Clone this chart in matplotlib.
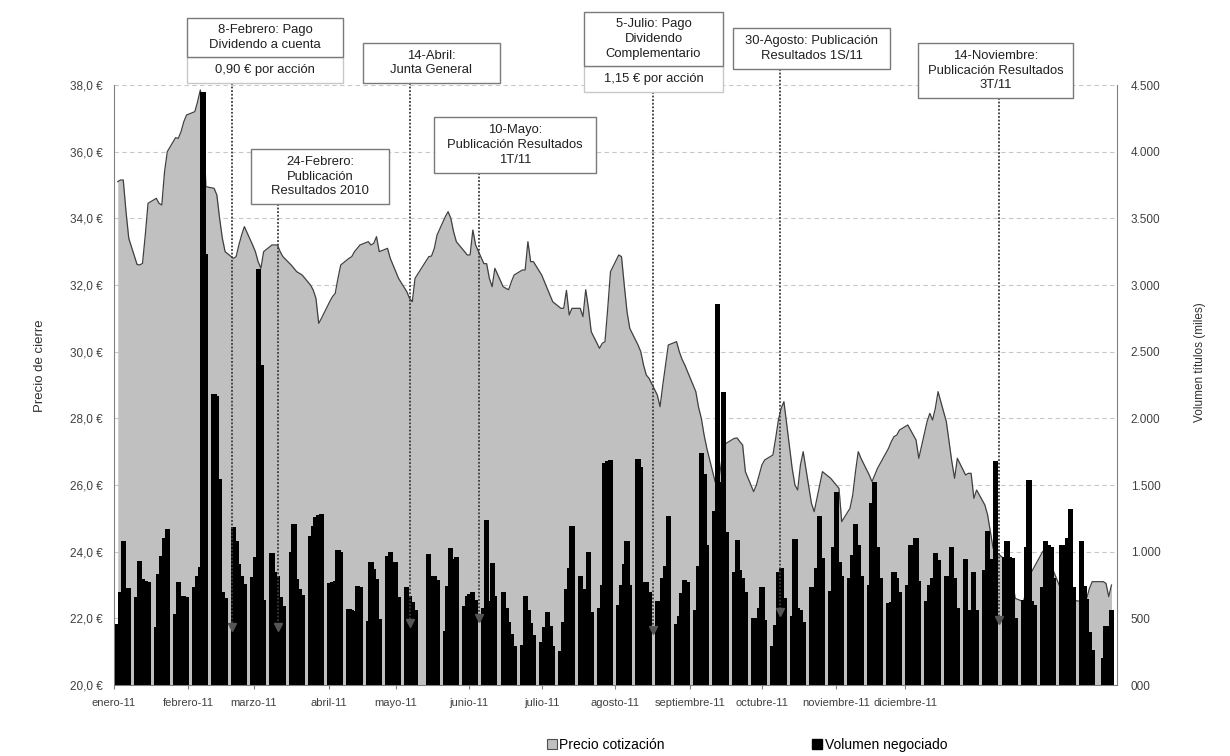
import numpy as np
import pandas as pd
import matplotlib
matplotlib.use("Agg")
import matplotlib.pyplot as plt
import matplotlib.dates as mdates
from matplotlib.patches import Rectangle, Patch
from matplotlib.lines import Line2D

plt.rcParams['font.family'] = ['Liberation Sans', 'DejaVu Sans']

# trading days 2011 (Spanish market holidays removed)
holidays = ["2011-04-22", "2011-04-25", "2011-12-26"]
days = pd.bdate_range("2011-01-03", "2011-12-30")
days = days[~days.isin(pd.to_datetime(holidays))]

# closing price, one line per week
price = [
    35.1, 35.15, 35.15, 34.2, 33.4,
    32.62, 32.6, 32.65, 33.5, 34.45,
    34.6, 34.45, 34.4, 35.4, 36.0,
    36.42, 36.4, 36.6, 36.9, 37.1,
    37.2, 37.5, 37.85, 37.4, 34.95,
    34.9, 34.7, 34.0, 33.4, 33.0,
    32.8, 32.85, 33.2, 33.5, 33.75,
    33.2, 33.0, 32.7, 32.5, 33.0,
    33.2, 33.2, 33.2, 33.0, 32.85,
    32.6, 32.5, 32.4, 32.35, 32.3,
    32.0, 31.85, 31.6, 30.85, 31.0,
    31.5, 31.65, 31.75, 32.2, 32.6,
    32.8, 32.85, 33.0, 33.1, 33.2,
    33.3, 33.2, 33.25, 33.45, 33.0,
    33.1, 32.8, 32.6, 32.4, 32.2,
    31.8, 31.6, 31.5, 32.2,
    32.85, 32.87, 33.1, 33.5,
    34.05, 34.2, 34.0, 33.6, 33.3,
    33.0, 32.9, 32.9, 33.65, 33.2,
    32.64, 32.64, 32.2, 31.95, 32.5,
    31.95, 31.9, 31.86, 32.1, 32.3,
    32.45, 32.45, 33.3, 32.7, 32.7,
    32.3, 32.1, 31.9, 31.7, 31.5,
    31.3, 31.3, 31.84, 31.1, 31.3,
    31.3, 31.05, 31.86, 31.3, 30.6,
    30.1, 30.25, 30.3, 31.3, 32.4,
    32.9, 32.85, 32.0, 31.2, 30.7,
    30.2, 30.0, 29.6, 29.3, 29.2,
    28.7, 28.35, 29.0, 29.6, 30.2,
    30.3, 30.0, 29.77, 29.6, 29.4,
    28.8, 28.33, 28.0, 27.5, 27.1,
    26.1, 26.0, 26.5, 27.1, 27.25,
    27.4, 27.41, 27.3, 27.2, 26.4,
    25.8, 26.0, 26.3, 26.6, 26.75,
    26.9, 27.4, 27.95, 28.3, 28.5,
    26.5, 26.0, 25.85, 26.6, 27.0,
    25.45, 25.2, 25.6, 26.0, 26.4,
    26.2, 26.1, 26.0, 25.9, 24.9,
    25.3, 25.7, 26.4, 27.0, 26.8,
    26.3, 26.1, 26.3, 26.5, 26.65,
    27.1, 27.3, 27.45, 27.5, 27.65,
    27.8, 27.65, 27.5, 27.35, 26.8,
    27.9, 28.15, 27.95, 28.3, 28.8,
    27.9, 27.3, 26.7, 26.2, 26.8,
    26.3, 26.35, 26.35, 25.6, 25.85,
    25.4, 25.1, 24.6, 24.1, 24.0,
    23.78, 23.76, 23.74, 23.2, 22.6,
    22.5, 22.8, 23.1, 23.4, 23.55,
    24.0, 24.08, 23.9, 23.6, 23.4,
    22.8, 22.7, 22.65, 22.6, 22.55,
    22.5, 22.55, 22.6, 22.9, 23.1,
    23.1, 23.05, 22.65, 23.0,
]

# traded volume (thousands of shares), one line per week
volume = [
    460, 695, 1078, 460, 725,
    661, 932, 796, 781, 770,
    436, 834, 969, 1104, 1172,
    533, 774, 518, 669, 661,
    736, 819, 887, 4450, 3230,
    2185, 2170, 1545, 700, 650,
    1187, 1082, 909, 819, 760,
    810, 960, 3120, 2400, 640,
    990, 850, 820, 660, 594,
    1000, 1209, 796, 721, 676,
    1120, 1195, 1262, 1277, 1285,
    766, 772, 781, 1014, 1000,
    571, 560, 556, 744, 736,
    481, 924, 870, 796, 496,
    969, 999, 699, 924, 660,
    736, 669, 624, 560,
    985, 819, 819, 790,
    404, 745, 1025, 948, 960,
    590, 665, 680, 700, 640,
    575, 1235, 632, 914, 670,
    699, 575, 474, 383, 290,
    300, 665, 565, 465, 374,
    320, 437, 550, 444, 290,
    256, 473, 721, 879, 1195,
    815, 720, 585, 995, 550,
    575, 747, 1666, 1680, 1690,
    603, 747, 905, 1077, 747,
    1695, 1638, 776, 776, 700,
    632, 575, 804, 890, 1264,
    460, 517, 690, 790, 776,
    560, 890, 1738, 1580, 1050,
    1307, 2859, 1523, 2198, 1149,
    848, 1091, 862, 804, 700,
    503, 503, 575, 733, 489,
    290, 450, 850, 880, 650,
    517, 1092, 575, 560, 474,
    732, 531, 876, 1270, 950,
    704, 1034, 1451, 919, 819,
    804, 977, 1207, 1048, 820,
    747, 1365, 1523, 1034, 800,
    618, 620, 847, 804, 700,
    747, 1048, 804, 1106, 780,
    632, 747, 804, 991, 934,
    819, 820, 1034, 804, 575,
    948, 560, 546, 847, 560,
    862, 1155, 948, 919, 1681,
    962, 1077, 962, 950, 503,
    640, 1034, 1537, 632, 600,
    732, 1077, 1050, 1034, 800,
    1048, 1050, 1106, 1322, 732,
    1080, 745, 645, 400, 260,
    200, 440, 410, 560,
]

month_labels = ["enero-11", "febrero-11", "marzo-11", "abril-11", "mayo-11",
                "junio-11", "julio-11", "agosto-11", "septiembre-11",
                "octubre-11", "noviembre-11", "diciembre-11"]

price_ticks = np.arange(20, 38.1, 2)
volume_ticks = np.arange(0, 4501, 500)

events = [
    "8-Febrero: Pago\nDividendo a cuenta",
    "24-Febrero:\nPublicación\nResultados 2010",
    "14-Abril:\nJunta General",
    "10-Mayo:\nPublicación Resultados\n1T/11",
    "5-Julio: Pago\nDividendo\nComplementario",
    "30-Agosto: Publicación\nResultados 1S/11",
    "14-Noviembre:\nPublicación Resultados\n3T/11",
]
event_notes = ["0,90 € por acción", None, None, None, "1,15 € por acción", None, None]

# ---- layout (pixels of the 1230x756 canvas) ----
W, H = 1230, 756
def fx(px):
    return px / W
def fy(py):
    return 1 - py / H

AX_L, AX_R, AX_T, AX_B = 114, 1117, 85, 685
tick_px = [113, 187, 253, 328, 395, 468, 541, 614, 690, 762, 836, 905]
# box: x0, x1, y0, y1 (upper part), y2 (bottom of note part)
box_px = [
    (187, 343, 18, 57, 83),
    (251, 389, 149, 204, None),
    (363, 500, 43, 83, None),
    (434, 596, 117, 173, None),
    (584, 723, 12, 66, 92),
    (733, 890, 28, 69, None),
    (918, 1073, 43, 98, None),
]
line_px = [232, 278, 410, 479, 653, 780, 999]
arrow_py = [627, 627, 623, 618, 630, 612, 620]

fig = plt.figure(figsize=(12.3, 7.56), dpi=100)
ax = fig.add_axes([fx(AX_L), fy(AX_B), (AX_R - AX_L) / W, (AX_B - AX_T) / H])
ax2 = ax.twinx()

x = mdates.date2num(days)
ax.fill_between(x, 20, price, color='#c0c0c0', lw=0, zorder=1)
ax.plot(x, price, color='#404040', lw=0.9, zorder=2)
ax2.bar(x, volume, width=1.9, color='black', lw=0, zorder=3)

x0 = mdates.date2num(pd.Timestamp("2011-01-02"))
x1 = mdates.date2num(pd.Timestamp("2012-01-01"))
ax.set_xlim(x0, x1)
ax.set_ylim(20, 38)
ax2.set_ylim(0, 4500)

ax.set_yticks(price_ticks)
ax.set_yticklabels([f"{v:.1f} €".replace('.', ',') for v in price_ticks])
ax2.set_yticks(volume_ticks)
ax2.set_yticklabels(["000" if v == 0 else f"{v:,}".replace(',', '.') for v in volume_ticks])

ticks = [x0 + (p - AX_L) / (AX_R - AX_L) * (x1 - x0) for p in tick_px]
ax.set_xticks(ticks)
ax.set_xticklabels(month_labels)

ax.grid(axis='y', color='#c8c8c8', ls=(0, (4, 3)), lw=0.8)
ax.set_axisbelow(True)

for s in ['top', 'right', 'bottom']:
    ax.spines[s].set_visible(False)
for s in ['top', 'left']:
    ax2.spines[s].set_visible(False)
ax.spines['left'].set_color('#808080')
ax2.spines['right'].set_color('#808080')
ax2.spines['bottom'].set_color('#808080')

ax.tick_params(axis='y', length=0, pad=8, labelsize=8.5, labelcolor='#404040')
ax2.tick_params(axis='y', length=0, pad=10, labelsize=8.5, labelcolor='#404040')
ax.tick_params(axis='x', length=3, color='#808080', pad=6, labelsize=8,
               labelcolor='#404040')

fig.text(fx(40), fy(366), "Precio de cierre", rotation=90, ha='center',
         va='center', fontsize=9.5, color='#303030')
fig.text(fx(1200), fy(362), "Volumen títulos (miles)", rotation=90, ha='center',
         va='center', fontsize=8.5, color='#303030')

# annotation boxes with dotted leader lines
for txt, note, (bx0, bx1, by0, by1, by2), lx, ay in zip(events, event_notes, box_px,
                                                        line_px, arrow_py):
    bottom = by2 if by2 else by1
    fig.add_artist(Line2D([fx(lx), fx(lx)], [fy(bottom), fy(ay)], transform=fig.transFigure,
                          ls=(0, (1, 1)), lw=1.3, color='#3a3a3a', zorder=9))
    fig.add_artist(Line2D([fx(lx)], [fy(ay)], transform=fig.transFigure, marker='v',
                          ms=6, color='#555555', lw=0, zorder=9))
    if note:
        fig.add_artist(Rectangle((fx(bx0), fy(by2)), (bx1 - bx0) / W, (by2 - by1) / H,
                                 transform=fig.transFigure, fc='white', ec='#c8c8c8',
                                 lw=1, zorder=10))
        fig.text(fx((bx0 + bx1) / 2), fy((by1 + by2) / 2), note, ha='center', va='center',
                 fontsize=9.4, color='#202020', zorder=11)
    fig.add_artist(Rectangle((fx(bx0), fy(by1)), (bx1 - bx0) / W, (by1 - by0) / H,
                             transform=fig.transFigure, fc='white', ec='#7a7a7a',
                             lw=1, zorder=10))
    fig.text(fx((bx0 + bx1) / 2), fy((by0 + by1) / 2), txt, ha='center', va='center',
             fontsize=9.4, color='#202020', linespacing=1.32, zorder=11)

handles = [Patch(facecolor='#c0c0c0', edgecolor='#505050', lw=0.8),
           Patch(facecolor='black', edgecolor='black')]
fig.legend(handles, ["Precio cotización", "Volumen negociado"], loc='center',
           bbox_to_anchor=(fx(747), fy(745)), ncol=2, frameon=False, fontsize=10,
           handlelength=0.7, handleheight=0.7, handletextpad=0.2, columnspacing=10.6)

fig.savefig("out.png", dpi=100)
